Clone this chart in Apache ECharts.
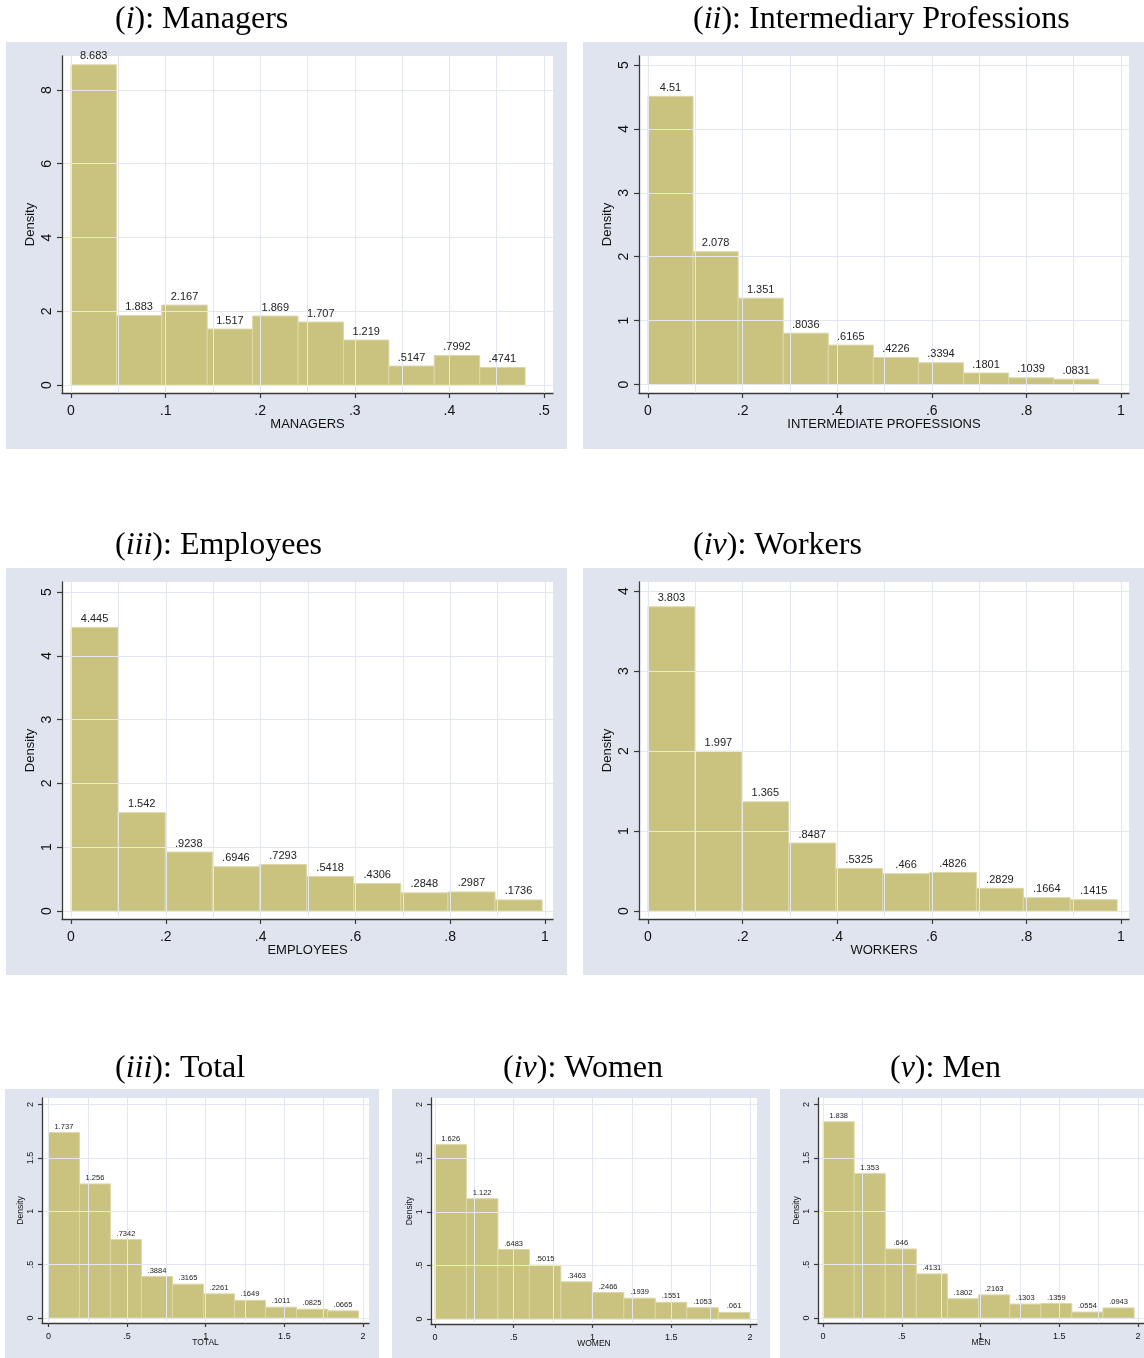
<!DOCTYPE html>
<html><head><meta charset="utf-8">
<script src="https://cdn.jsdelivr.net/npm/echarts@6/dist/echarts.min.js"></script>
<style>html,body{margin:0;padding:0;background:#fff}#c{width:1144px;height:1358px}</style>
</head><body><div id="c"></div>
<script>
// ---- data ----
const numerals = ['i', 'ii', 'iii', 'iv', 'iii', 'iv', 'v'];
const titles = ['Managers', 'Intermediary Professions', 'Employees', 'Workers', 'Total', 'Women', 'Men'];
const xTitles = ['MANAGERS', 'INTERMEDIATE PROFESSIONS', 'EMPLOYEES', 'WORKERS', 'TOTAL', 'WOMEN', 'MEN'];
const yTitle = 'Density';
const binStart = [0, 0, 0, 0, 0, 0, 0];
const binWidth = [0.048, 0.0953, 0.0994, 0.0992, 0.1971, 0.1998, 0.1975];
const managers = [8.683, 1.883, 2.167, 1.517, 1.869, 1.707, 1.219, 0.5147, 0.7992, 0.4741];
const intermediary = [4.51, 2.078, 1.351, 0.8036, 0.6165, 0.4226, 0.3394, 0.1801, 0.1039, 0.0831];
const employees = [4.445, 1.542, 0.9238, 0.6946, 0.7293, 0.5418, 0.4306, 0.2848, 0.2987, 0.1736];
const workers = [3.803, 1.997, 1.365, 0.8487, 0.5325, 0.466, 0.4826, 0.2829, 0.1664, 0.1415];
const total = [1.737, 1.256, 0.7342, 0.3884, 0.3165, 0.2261, 0.1649, 0.1011, 0.0825, 0.0665];
const women = [1.626, 1.122, 0.6483, 0.5015, 0.3463, 0.2466, 0.1939, 0.1551, 0.1053, 0.061];
const men = [1.838, 1.353, 0.646, 0.4131, 0.1802, 0.2163, 0.1303, 0.1359, 0.0554, 0.0943];
const xTicks = [
  [0, 0.1, 0.2, 0.3, 0.4, 0.5],
  [0, 0.2, 0.4, 0.6, 0.8, 1],
  [0, 0.2, 0.4, 0.6, 0.8, 1],
  [0, 0.2, 0.4, 0.6, 0.8, 1],
  [0, 0.5, 1, 1.5, 2],
  [0, 0.5, 1, 1.5, 2],
  [0, 0.5, 1, 1.5, 2]
];
const yTicks = [
  [0, 2, 4, 6, 8],
  [0, 1, 2, 3, 4, 5],
  [0, 1, 2, 3, 4, 5],
  [0, 1, 2, 3, 4],
  [0, 0.5, 1, 1.5, 2],
  [0, 0.5, 1, 1.5, 2],
  [0, 0.5, 1, 1.5, 2]
];
const seriesValues = [managers, intermediary, employees, workers, total, women, men];

// ---- layout (positions / styles only) ----
const layout = [
  {bg: [6, 42, 561, 407], g: [62, 56, 491, 337], x: [-0.0095, 0.5095], y: [-0.217, 8.922], t: [115, 4], big: true},
  {bg: [583, 42, 561, 407], g: [639, 56, 490, 337], x: [-0.019, 1.017], y: [-0.133, 5.141], t: [693, 4], big: true},
  {bg: [6, 568, 561, 407], g: [62, 582, 491, 337], x: [-0.019, 1.017], y: [-0.125, 5.157], t: [115, 530], big: true},
  {bg: [583, 568, 561, 407], g: [639, 582, 490, 337], x: [-0.019, 1.017], y: [-0.1, 4.1125], t: [693, 530], big: true},
  {bg: [5, 1089, 374, 269], g: [42, 1098, 327, 225], x: [-0.041, 2.038], y: [-0.047, 2.061], t: [115, 1053], big: false},
  {bg: [392, 1089, 378, 269], g: [431, 1098, 326, 226], x: [-0.025, 2.044], y: [-0.047, 2.061], t: [503, 1053], big: false},
  {bg: [780, 1089, 364, 269], g: [818, 1098, 326, 225], x: [-0.032, 2.038], y: [-0.047, 2.061], t: [890, 1053], big: false}
];

const SANS = '"Liberation Sans", Arial, sans-serif';
const SERIF = '"Liberation Serif", "Times New Roman", serif';
const BAR = '#cac380';
const BAR_EDGE = '#dcd7a6';
const GRIDC = '#e3e7f0';
const AXC = '#3a3a3a';
const PANEL = '#dfe4ee';

function fmt(v) {
  let s = String(+(+v).toFixed(4));
  return s.replace(/^0\./, '.').replace(/^-0\./, '-.');
}

const option = {
  animation: false,
  backgroundColor: '#fff',
  graphic: layout.map(L => ({
    type: 'rect', silent: true, z: -10,
    shape: {x: L.bg[0], y: L.bg[1], width: L.bg[2], height: L.bg[3]},
    style: {fill: PANEL}
  })),
  title: [], grid: [], xAxis: [], yAxis: [], series: []
};

layout.forEach((L, k) => {
  const big = L.big;
  const tickFont = big ? 14 : 9;
  const nameFont = big ? 13 : 8.5;
  const valFont = big ? 11 : 7.5;
  const tickLen = big ? 5 : 4;
  option.title.push({
    text: '(' + '{it|' + numerals[k] + '}' + '): ' + titles[k],
    left: L.t[0], top: L.t[1], padding: 0,
    textStyle: {
      fontFamily: SERIF, fontSize: 32, fontWeight: 'normal', color: '#000',
      rich: {it: {fontFamily: SERIF, fontSize: 32, fontStyle: 'italic', color: '#000'}}
    }
  });
  option.grid.push({
    left: L.g[0], top: L.g[1], width: L.g[2], height: L.g[3],
    show: true, backgroundColor: '#fff', borderWidth: 0
  });
  // half-step grid positions for vertical grid lines
  const step = (xTicks[k][1] - xTicks[k][0]) / 2;
  const gridX = [];
  for (let i = 0; i * step <= L.x[1]; i++) gridX.push(+(i * step).toFixed(6));
  option.xAxis.push({
    type: 'value', gridIndex: k, min: L.x[0], max: L.x[1],
    axisLine: {show: true, onZero: false, lineStyle: {color: AXC, width: 1.3}},
    axisTick: {show: true, length: tickLen, customValues: xTicks[k], lineStyle: {color: AXC, width: 1.2}},
    axisLabel: {customValues: xTicks[k], formatter: fmt, margin: big ? 11 : 9,
      fontFamily: SANS, fontSize: tickFont, color: '#111'},
    splitLine: {show: false},
    name: xTitles[k], nameLocation: 'middle', nameGap: big ? 24.5 : 15.5,
    nameMoveOverlap: false,
    nameTextStyle: {fontFamily: SANS, fontSize: nameFont, color: '#111'}
  });
  option.xAxis.push({
    type: 'value', gridIndex: k, min: L.x[0], max: L.x[1], z: 4,
    axisLine: {show: false},
    axisTick: {show: false, customValues: gridX},
    axisLabel: {show: false, customValues: gridX},
    splitLine: {show: true, lineStyle: {color: GRIDC, width: 1}}
  });
  option.yAxis.push({
    type: 'value', gridIndex: k, min: L.y[0], max: L.y[1], z: 4,
    axisLine: {show: true, onZero: false, lineStyle: {color: AXC, width: 1.3}},
    axisTick: {show: true, length: tickLen, customValues: yTicks[k], lineStyle: {color: AXC, width: 1.2}},
    axisLabel: {customValues: yTicks[k], formatter: fmt, rotate: 90, margin: big ? 8 : 7,
      fontFamily: SANS, fontSize: tickFont, color: '#111'},
    splitLine: {show: true, lineStyle: {color: GRIDC, width: 1}},
    name: yTitle, nameLocation: 'middle', nameGap: big ? 25 : 17,
    nameMoveOverlap: false,
    nameTextStyle: {fontFamily: SANS, fontSize: nameFont, color: '#111'}
  });
  const w = binWidth[k], s0 = binStart[k];
  const data = seriesValues[k].map((v, i) => [s0 + i * w, s0 + (i + 1) * w, v]);
  option.series.push({
    type: 'custom', xAxisIndex: 2 * k, yAxisIndex: k, z: 2, silent: true,
    data: data,
    renderItem: (params, api) => {
      const a = api.coord([api.value(0), api.value(2)]);
      const b = api.coord([api.value(1), 0]);
      return {type: 'rect', shape: {x: a[0], y: a[1], width: b[0] - a[0], height: b[1] - a[1]},
        style: {fill: BAR, stroke: BAR_EDGE, lineWidth: 1}};
    }
  });
  option.series.push({
    type: 'custom', xAxisIndex: 2 * k, yAxisIndex: k, z: 6, silent: true,
    data: data,
    renderItem: (params, api) => {
      const a = api.coord([api.value(0), api.value(2)]);
      const b = api.coord([api.value(1), 0]);
      return {type: 'text', x: (a[0] + b[0]) / 2, y: a[1] - (big ? 3 : 2),
        style: {text: fmt(api.value(2)), align: 'center', verticalAlign: 'bottom',
          textAlign: 'center', textVerticalAlign: 'bottom',
          fontFamily: SANS, fontSize: valFont, fill: '#222'}};
    }
  });
});

const chart = echarts.init(document.getElementById('c'), null, {renderer: 'canvas'});
chart.setOption(option);
</script>
</body></html>
